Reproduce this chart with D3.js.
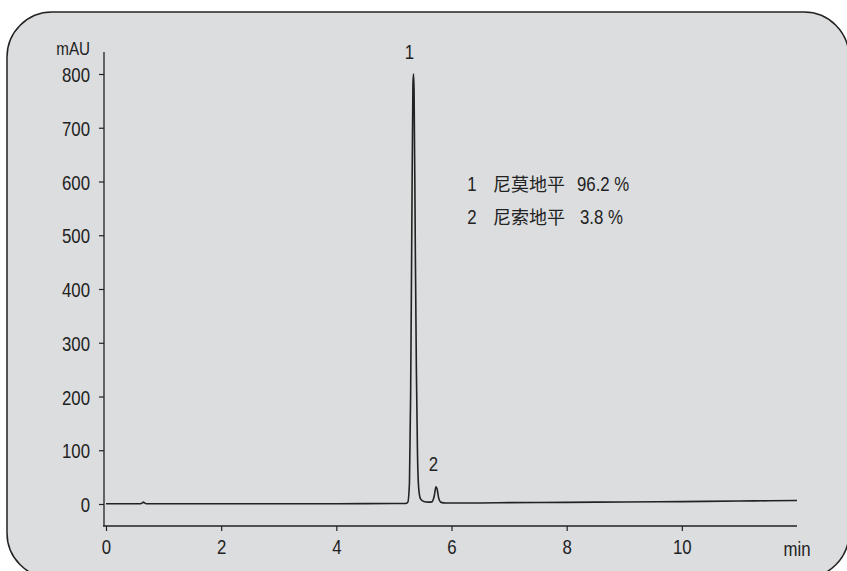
<!DOCTYPE html>
<html>
<head>
<meta charset="utf-8">
<script src="https://cdn.jsdelivr.net/npm/d3@7"></script>
<style>
html,body{margin:0;padding:0;background:#fff;}
svg{display:block;}
</style>
</head>
<body>
<script>
// ---- data ----
const timeMin = [0, 0.3, 0.6, 0.63, 0.65, 0.67, 0.7, 1.0, 1.5, 2.0, 2.5, 3.0, 3.5, 4.0, 4.5, 5.0, 5.2,
  5.24, 5.27, 5.29, 5.31, 5.33, 5.34, 5.35, 5.37, 5.39, 5.41, 5.43, 5.46, 5.52, 5.6, 5.66,
  5.7, 5.73, 5.75, 5.78, 5.82, 5.9, 6.5, 7.0, 8.0, 9.0, 10.0, 11.0, 11.5, 12.0];
const signalMAU = [0.5, 0.5, 0.5, 2, 3.5, 2, 0.5, 0.5, 0.5, 0.5, 0.5, 0.5, 0.6, 0.6, 0.7, 0.8, 0.8,
  3, 40, 200, 500, 780, 800, 770, 500, 250, 90, 30, 10, 4.5, 3.5, 4,
  15, 32, 28, 10, 3, 2, 2, 2.5, 3, 3.8, 4.5, 5.5, 6, 6.5];
const yTicks = [0, 100, 200, 300, 400, 500, 600, 700, 800];
const xTicks = [0, 2, 4, 6, 8, 10];
const peakLabels = ["1", "2"];
const peakTimes = [5.34, 5.74];
const peakHeights = [800, 33];
const legendNums = ["1", "2"];
const legendNames = ["尼莫地平", "尼索地平"];
const legendPct = ["96.2 %", "3.8 %"];

// ---- layout ----
const W = 847, H = 571;
const font = "'Liberation Sans',Arial,sans-serif";
const cjk = "'Noto Sans CJK SC',sans-serif";
const SX = 0.8;   // horizontal condensation of the Latin font
const ink = "#222";

const svg = d3.select("body").append("svg").attr("width", W).attr("height", H);

// condensed text helper
function narrowText(sel) {
  sel.each(function () {
    const t = d3.select(this);
    const xv = +(t.attr("x") || 0);
    t.attr("x", xv / SX).attr("transform", `scale(${SX},1)`);
  });
}
function label(px, py, txt, anchor, size) {
  return svg.append("text")
    .attr("transform", `translate(${px},${py}) scale(${SX},1)`)
    .attr("text-anchor", anchor).attr("font-family", font)
    .attr("font-size", size).attr("fill", ink).text(txt);
}

// frame
svg.append("rect")
  .attr("x", 7).attr("y", 12).attr("width", 842).attr("height", 566)
  .attr("rx", 45).attr("ry", 45)
  .attr("fill", "#dcdddf").attr("stroke", ink).attr("stroke-width", 1.5);

const x = d3.scaleLinear().domain([0, 12]).range([106, 797]);
const y = d3.scaleLinear().domain([0, 800]).range([504, 74]);

// axis lines
svg.append("line").attr("x1", 104).attr("x2", 104).attr("y1", 52).attr("y2", 526)
  .attr("stroke", ink).attr("stroke-width", 1.3);
svg.append("line").attr("x1", 103).attr("x2", 797).attr("y1", 526).attr("y2", 526)
  .attr("stroke", ink).attr("stroke-width", 1.3);

// y ticks
const yAxis = d3.axisLeft(y).tickValues(yTicks).tickSize(5).tickPadding(9);
const gy = svg.append("g").attr("transform", "translate(104,0)").call(yAxis);
gy.select(".domain").remove();
gy.selectAll("line").attr("stroke", ink).attr("stroke-width", 1.2);
gy.selectAll("text").attr("font-family", font).attr("font-size", 21).attr("fill", ink).attr("dy", "0.36em").call(narrowText);

// x ticks
const xAxis = d3.axisBottom(x).tickValues(xTicks).tickSize(5).tickPadding(8);
const gx = svg.append("g").attr("transform", "translate(0,526)").call(xAxis);
gx.select(".domain").remove();
gx.selectAll("line").attr("stroke", ink).attr("stroke-width", 1.2);
gx.selectAll("text").attr("font-family", font).attr("font-size", 21).attr("fill", ink).call(narrowText);

// axis unit labels
label(90, 55, "mAU", "end", 19);
label(x(12), 555.5, "min", "middle", 21);

// trace
const line = d3.line().x((d, i) => x(timeMin[i])).y(d => y(d)).curve(d3.curveMonotoneX);
svg.append("path").datum(signalMAU).attr("d", line)
  .attr("fill", "none").attr("stroke", ink).attr("stroke-width", 1.6).attr("stroke-linejoin", "round");

// peak labels
peakLabels.forEach((p, i) => {
  label(x(peakTimes[i]) - 4 + i, y(peakHeights[i]) - 15, p, "middle", 21);
});

// legend
legendNums.forEach((n, i) => {
  const yy = 191 + i * 33;
  label(472, yy, n, "middle", 21);
  svg.append("text").attr("x", 493).attr("y", yy).attr("font-family", cjk)
    .attr("font-size", 18).attr("fill", ink).text(legendNames[i]);
  label(i === 0 ? 577 : 580, yy, legendPct[i], "start", 21);
});
</script>
</body>
</html>
